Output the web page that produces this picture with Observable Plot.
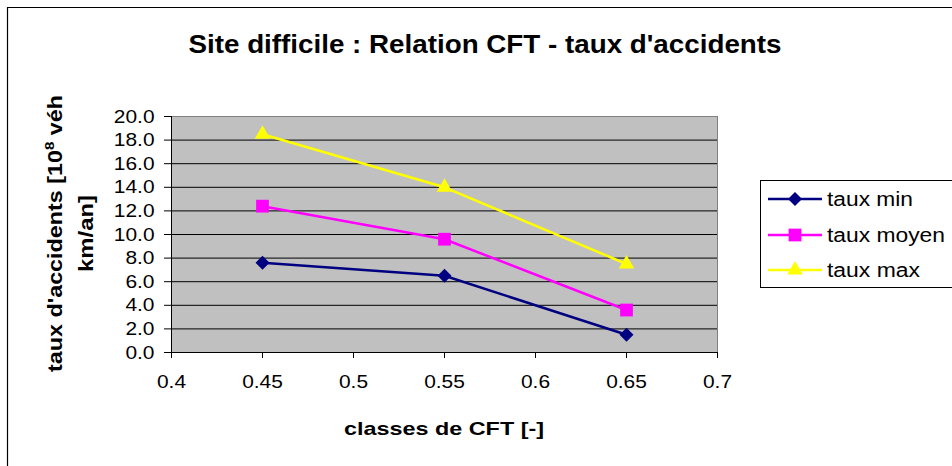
<!DOCTYPE html>
<html><head><meta charset="utf-8">
<script src="https://cdn.jsdelivr.net/npm/d3@7"></script>
<script src="https://cdn.jsdelivr.net/npm/@observablehq/plot@0.6"></script>
<style>
body{margin:0;background:#fff;}
#wrap{position:relative;width:952px;height:466px;overflow:hidden;font-family:"Liberation Sans",Arial,sans-serif;}
#wrap svg{position:absolute;left:0;top:0;}
</style></head><body><div id="wrap"></div>
<script>
const cft = [0.45, 0.55, 0.65];
const tauxMin = [7.6, 6.5, 1.5];
const tauxMoyen = [12.4, 9.6, 3.6];
const tauxMax = [18.5, 14.0, 7.5];
const seriesNames = ["taux min", "taux moyen", "taux max"];
const seriesColors = ["#000080", "#FF00FF", "#FFFF00"];
const seriesSymbols = ["diamond2", "square", "triangle"];
const xTicks = [0.4, 0.45, 0.5, 0.55, 0.6, 0.65, 0.7];
const yTicks = [0, 2, 4, 6, 8, 10, 12, 14, 16, 18, 20];
const titleText = "Site difficile : Relation CFT - taux d'accidents";
const xLabel = "classes de CFT [-]";
const yLabel1 = ["taux d'accidents [10", "8", " véh"];
const yLabel2 = "km/an]";

const FONT = '"Liberation Sans", Arial, sans-serif';
const seriesValues = [tauxMin, tauxMoyen, tauxMax];
const data = seriesNames.flatMap((s, i) => cft.map((x, j) => ({series: s, cft: x, taux: seriesValues[i][j]})));
const symbolR = {diamond2: 6.3, square: 7.2, triangle: 5.8};

const wrap = document.getElementById("wrap");

const chart = Plot.plot({
  width: 952, height: 466,
  marginLeft: 171, marginRight: 235, marginTop: 116, marginBottom: 114,
  style: {fontFamily: FONT, background: "transparent", color: "#000"},
  x: {domain: [0.4, 0.7]},
  y: {domain: [0, 20]},
  color: {domain: seriesNames, range: seriesColors},
  marks: [
    Plot.frame({fill: "#C0C0C0", stroke: "#808080"}),
    Plot.ruleY(yTicks.slice(1, -1), {stroke: "#000", strokeWidth: 1}),
    Plot.ruleY([0], {stroke: "#000"}),
    Plot.ruleX([0.4], {stroke: "#000"}),
    Plot.axisY({ticks: yTicks, tickFormat: d => d.toFixed(1), tickSize: 7, tickPadding: 10, fontSize: 19, label: null}),
    Plot.axisX({ticks: xTicks, tickFormat: d => String(+d.toFixed(2)), tickSize: 6, tickPadding: 16, fontSize: 19, label: null}),
    Plot.line(data, {x: "cft", y: "taux", z: "series", stroke: "series", strokeWidth: 2.5}),
    ...seriesNames.map((s, i) => Plot.dot(data.filter(d => d.series === s), {
      x: "cft", y: "taux", fill: "series", stroke: null, symbol: seriesSymbols[i], r: symbolR[seriesSymbols[i]]
    }))
  ]
});
wrap.appendChild(chart);

// widen tick labels slightly (original rendering has wide glyphs)
d3.select(chart).selectAll('g[aria-label$="tick label"] text').each(function() {
  const L = this.getComputedTextLength();
  this.setAttribute("textLength", (L * 1.1).toFixed(1));
  this.setAttribute("lengthAdjust", "spacingAndGlyphs");
});

// overlay: border, title, axis titles, legend
const ov = d3.select(wrap).append("svg").attr("width", 952).attr("height", 466)
  .style("font-family", FONT);
ov.append("path").attr("d", "M7.5,466V7.5H952").attr("fill", "none").attr("stroke", "#000").attr("stroke-width", 1.2);

ov.append("text").attr("x", 485).attr("y", 53).attr("text-anchor", "middle")
  .attr("font-size", 25).attr("font-weight", "bold").attr("textLength", 593).attr("lengthAdjust", "spacingAndGlyphs")
  .text(titleText);

ov.append("text").attr("x", 444).attr("y", 435).attr("text-anchor", "middle")
  .attr("font-size", 19).attr("font-weight", "bold").attr("textLength", 200).attr("lengthAdjust", "spacingAndGlyphs")
  .text(xLabel);

const yl = ov.append("text").attr("transform", "translate(62,233.5) rotate(-90)").attr("text-anchor", "middle")
  .attr("font-size", 20).attr("font-weight", "bold").attr("textLength", 277).attr("lengthAdjust", "spacingAndGlyphs");
yl.append("tspan").text(yLabel1[0]);
yl.append("tspan").attr("font-size", 13).attr("dy", -8).text(yLabel1[1]);
yl.append("tspan").attr("dy", 8).text(yLabel1[2]);

ov.append("text").attr("transform", "translate(93,233.5) rotate(-90)").attr("text-anchor", "middle")
  .attr("font-size", 20).attr("font-weight", "bold").attr("textLength", 77).attr("lengthAdjust", "spacingAndGlyphs")
  .text(yLabel2);

// legend
const lg = ov.append("g");
lg.append("rect").attr("x", 760.5).attr("y", 180.5).attr("width", 220).attr("height", 107)
  .attr("fill", "#fff").attr("stroke", "#000");
const rowsY = [199, 235, 270];
const legLen = [86, 118, 93];
seriesNames.forEach((s, i) => {
  const y = rowsY[i];
  lg.append("line").attr("x1", 768).attr("x2", 822).attr("y1", y).attr("y2", y)
    .attr("stroke", seriesColors[i]).attr("stroke-width", 2.5);
  const r = symbolR[seriesSymbols[i]];
  const sym = {diamond2: d3.symbolDiamond2, square: d3.symbolSquare, triangle: d3.symbolTriangle}[seriesSymbols[i]];
  lg.append("path").attr("transform", `translate(795,${y})`)
    .attr("d", d3.symbol(sym, Math.PI * r * r)()).attr("fill", seriesColors[i]);
  lg.append("text").attr("x", 827).attr("y", y + 7).attr("font-size", 20)
    .attr("textLength", legLen[i]).attr("lengthAdjust", "spacingAndGlyphs").text(s);
});
</script>
</body></html>
